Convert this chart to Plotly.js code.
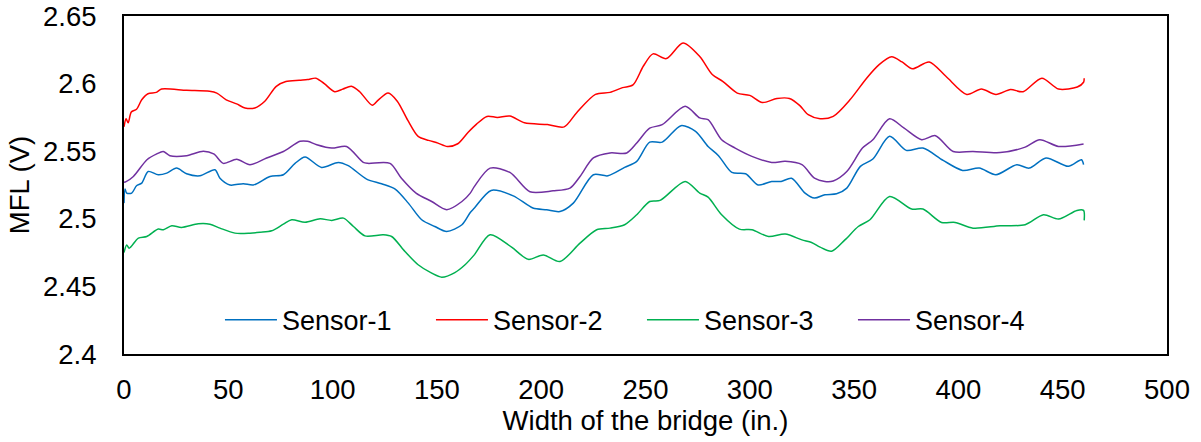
<!DOCTYPE html>
<html>
<head>
<meta charset="utf-8">
<script src="https://cdn.plot.ly/plotly-3.0.1.min.js"></script>
<style>html,body{margin:0;padding:0;background:#fff;}#chart{width:1201px;height:442px;}</style>
</head>
<body>
<div id="chart"></div>
<script>
// Sensor-1 (blue)
const s1x = [0,0.5,1.3,3.7,6,8.5,11.6,16.4,20.5,25.2,30,36.4,43.6,46,50.8,57.2,62,70,76.4,82,86.8,94.7,102.7,107.5,116.3,123.5,130,136.3,142.7,149,154.7,162,166,168,176,186.6,196,202.6,209,215.4,225,232,240,245.8,252,258,267,274,280,285,291.4,298,304,310.5,315,320,326.5,331,336,341.6,346.5,353,359,367,375,383,392.7,402,410,418,428,434,442,452.7,459,460];
const s1y = [2.5116,2.522,2.519,2.519,2.5244,2.5264,2.535,2.5326,2.5338,2.5375,2.5333,2.5318,2.5363,2.530,2.525,2.526,2.525,2.5313,2.5326,2.541,2.5457,2.538,2.5417,2.5393,2.5294,2.5259,2.522,2.5116,2.4993,2.4943,2.4906,2.4956,2.5047,2.508,2.521,2.517,2.508,2.5067,2.5054,2.5116,2.5326,2.5318,2.538,2.5425,2.5567,2.5567,2.5689,2.5647,2.5535,2.5467,2.5343,2.5333,2.525,2.5276,2.5276,2.530,2.519,2.5153,2.5178,2.5185,2.5227,2.5388,2.5442,2.561,2.5506,2.5523,2.5432,2.5358,2.5375,2.5326,2.540,2.5375,2.545,2.5388,2.5437,2.540];

// Sensor-2 (red)
const s2x = [0,1,2,3.5,6,8.5,11.5,15.5,18,30,41,44.5,49,54,58,62.7,67.5,73,77.6,84,88,92,96,101,105,109,113,119,122,126.6,131,136,141,146,150.5,155,160,165,169,174,179,185,192,203,211,217,226,233,239,244,249,253.6,260,268,276,282,287,294,300,306,313,319,324,328,333.7,340,348,356,362,368,373,378,386,394,404,411,418,425,431,440,448,457,460,460.3];
const s2y = [2.568,2.574,2.571,2.579,2.581,2.588,2.5925,2.5935,2.596,2.595,2.5943,2.593,2.588,2.585,2.582,2.582,2.587,2.598,2.6015,2.6025,2.603,2.604,2.600,2.594,2.596,2.598,2.594,2.584,2.588,2.593,2.587,2.573,2.561,2.558,2.556,2.5535,2.5555,2.564,2.570,2.5757,2.575,2.576,2.571,2.5697,2.568,2.5785,2.592,2.5935,2.597,2.599,2.613,2.622,2.6185,2.630,2.620,2.6067,2.6017,2.593,2.5913,2.586,2.589,2.589,2.5837,2.577,2.574,2.5758,2.588,2.604,2.614,2.6198,2.616,2.611,2.616,2.6054,2.592,2.596,2.592,2.5956,2.594,2.604,2.596,2.5975,2.601,2.604];

// Sensor-3 (green)
const s3x = [0,1.3,2.5,6.9,10.9,16.4,18.9,22.9,27.6,35.6,41.2,46,53.2,60.4,65.2,70.8,76.4,80.4,86.8,94,99.6,105.2,110,115.5,124.3,128.3,134.7,141,147.5,152.3,158.6,163.5,168,175.5,185.8,193.8,201,209,218.6,226.6,233,240,245.8,252,257,269,276,280,286.5,295,301,309,317,325,329.6,333.7,339.2,345.6,352,357.6,367,377.6,383,391.9,398.4,407,420,432,440.8,448,456.8,460,460.3];
const s3y = [2.475,2.4807,2.4783,2.4857,2.4869,2.4924,2.4919,2.4948,2.4936,2.4963,2.496,2.4931,2.4894,2.4894,2.490,2.4911,2.496,2.4993,2.4975,2.500,2.4988,2.5005,2.4943,2.4874,2.4882,2.4869,2.4758,2.466,2.4598,2.4568,2.4602,2.466,2.4735,2.4882,2.479,2.470,2.4733,2.4684,2.482,2.4919,2.4931,2.4956,2.503,2.5128,2.5136,2.5276,2.519,2.516,2.503,2.4924,2.4919,2.4869,2.4887,2.4844,2.4825,2.479,2.476,2.4844,2.4943,2.4993,2.5165,2.5072,2.5072,2.4973,2.4973,2.4931,2.4948,2.4956,2.503,2.4998,2.5062,2.5062,2.4988];

// Sensor-4 (purple)
const s4x = [0,1,4.5,11,15.7,18.8,22,30,38,43,47.6,54,60.4,68.4,76.4,84.4,88,92.4,99.6,106.7,114.7,117,127.5,133,140,147.5,154.7,162,166,168,175.5,185,194.6,205.7,213.8,218.6,225,233,241,245.8,252,258,269,276,280,286.5,293,301,310.5,317,325,331,336,340,346.5,354,359,367,374,382.4,389,397.5,407,420,432,439,448,460];
const s4y = [2.527,2.5275,2.5313,2.5437,2.548,2.5498,2.5467,2.5467,2.550,2.548,2.541,2.544,2.540,2.545,2.5498,2.5573,2.5573,2.5548,2.5523,2.5535,2.5417,2.541,2.541,2.530,2.519,2.5128,2.5067,2.5128,2.519,2.524,2.5375,2.5343,2.520,2.5207,2.5227,2.5313,2.545,2.5487,2.5487,2.556,2.567,2.5696,2.5832,2.5746,2.5733,2.5585,2.5523,2.5462,2.5417,2.5425,2.540,2.530,2.5276,2.528,2.535,2.5523,2.5585,2.574,2.567,2.5585,2.5615,2.5498,2.5498,2.549,2.553,2.5585,2.5535,2.5553];

const seriesNames = ["Sensor-1","Sensor-2","Sensor-3","Sensor-4"];
const seriesColors = ["#0070C0","#FF0000","#00B050","#7030A0"];
const xTickVals = [0,50,100,150,200,250,300,350,400,450,500];
const yTickVals = [2.4,2.45,2.5,2.55,2.6,2.65];
const yTickText = ["2.4","2.45","2.5","2.55","2.6","2.65"];

const xs = [s1x,s2x,s3x,s4x];
const ys = [s1y,s2y,s3y,s4y];
const FONT = "Arial, 'Liberation Sans', sans-serif";

const traces = seriesNames.map((n,i)=>({
  x: xs[i], y: ys[i], name: n, type: "scatter", mode: "lines",
  line: {color: seriesColors[i], width: 1.5, shape: "spline", smoothing: 0.8}
}));

const layout = {
  width: 1201, height: 442,
  margin: {l:124, r:34, t:16, b:88, pad:0},
  paper_bgcolor: "#fff", plot_bgcolor: "#fff",
  font: {family: FONT, size: 27, color: "#000"},
  showlegend: true,
  legend: {
    orientation: "h", x: 0.092, xanchor: "left", y: 0.1, yanchor: "middle",
    font: {family: FONT, size: 27, color: "#000"},
    bgcolor: "rgba(0,0,0,0)", entrywidth: 144, entrywidthmode: "pixels",
    itemwidth: 52, tracegroupgap: 0
  },
  xaxis: {
    range: [0,500], tickvals: xTickVals, showgrid: false, zeroline: false,
    showline: true, mirror: true, linecolor: "#000", linewidth: 2,
    ticks: "", ticklabelstandoff: 10,
    tickfont: {family: FONT, size: 27.5, color: "#000"},
    title: {text: "Width of the bridge (in.)", font: {family: FONT, size: 27.5, color: "#000"}, standoff: 4}
  },
  yaxis: {
    range: [2.4,2.65], tickvals: yTickVals, ticktext: yTickText, showgrid: false, zeroline: false,
    showline: true, mirror: true, linecolor: "#000", linewidth: 2,
    ticks: "", ticklabelstandoff: 20,
    tickfont: {family: FONT, size: 27.5, color: "#000"},
    title: {text: "MFL (V)", font: {family: FONT, size: 27.5, color: "#000"}, standoff: 5}
  }
};

Plotly.newPlot("chart", traces, layout, {displayModeBar: false, staticPlot: true});
</script>
</body>
</html>
